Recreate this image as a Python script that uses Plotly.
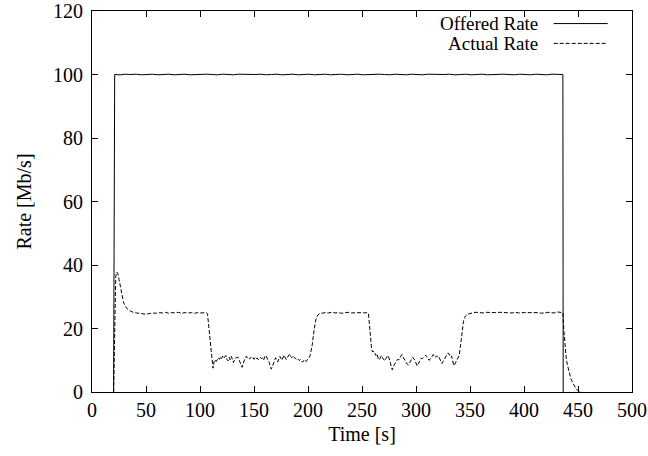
import plotly.graph_objects as go

# ---------------- data ----------------
offered_t = [20] + list(range(21, 437, 5)) + [436.3]
offered_core = [
    100.0, 99.9, 100.1, 100.0, 100.1, 99.9, 100.0, 100.1, 99.9, 100.0,
    100.1, 99.9, 100.0, 100.1, 99.9, 100.0, 99.9, 100.1, 100.0, 99.9,
    100.1, 100.0, 99.9, 100.1, 100.0, 99.9, 100.0, 100.1, 99.9, 100.0,
    100.1, 99.9, 100.0, 100.1, 99.9, 100.0, 100.1, 99.9, 100.0, 100.1,
    99.9, 100.0, 100.1, 99.9, 100.0, 100.1, 99.9, 100.0, 99.9, 100.1,
    100.0, 99.9, 100.1, 100.0, 99.9, 100.1, 100.0, 99.9, 100.1, 100.0,
    99.9, 100.0, 100.1, 99.9, 100.0, 100.1, 99.9, 100.0, 100.1, 99.9,
    100.0, 99.9, 100.1, 100.0, 99.9, 100.1, 100.0, 99.9, 100.1, 100.0,
    99.9, 100.1, 100.0, 100.0,
]
offered_v = [0] + offered_core + [0]

actual_t = [
    20, 20.5, 21, 21.5, 22, 23, 24, 25, 26, 27, 28, 29, 30, 32, 34, 36, 38, 41, 44, 47,
    50, 53, 56, 59, 62, 65, 68, 71, 74, 77, 80, 83, 86, 89, 92, 95, 98, 101, 104, 106,
    107, 108, 109, 110, 111, 112, 113, 114, 115, 116, 117, 118, 119, 120, 121, 122, 124, 125, 126, 127,
    128, 129, 130, 131, 132, 133, 135, 136, 137, 138, 139, 140, 141, 142, 143, 144, 145, 146, 147, 148,
    149, 150, 151, 152, 153, 154, 155, 156, 157, 158, 159, 160, 161, 162, 163, 164, 165, 166, 167, 168,
    169, 170, 171, 172, 173, 174, 175, 176, 177, 178, 179, 180, 181, 182, 183, 184, 185, 186, 187, 188,
    189, 190, 191, 192, 193, 194, 195, 196, 197, 198, 199, 200, 201, 202, 203, 204, 205, 206, 207, 208,
    209, 211, 213, 216, 219, 222, 225, 228, 231, 234, 237, 240, 243, 246, 249, 252, 255, 256, 257, 258,
    259, 260, 261, 262, 263, 264, 265, 266, 267, 268, 269, 270, 271, 272, 273, 274, 275, 276, 277, 278,
    279, 280, 281, 282, 283, 284, 285, 286, 287, 288, 289, 290, 291, 292, 293, 294, 295, 296, 297, 298,
    299, 300, 301, 302, 303, 304, 305, 306, 307, 308, 309, 310, 311, 312, 313, 314, 315, 316, 317, 318,
    319, 320, 321, 322, 323, 324, 325, 326, 327, 328, 329, 330, 331, 332, 333, 334, 335, 336, 337, 338,
    339, 340, 341, 342, 343, 344, 345, 346, 348, 350, 353, 356, 359, 362, 365, 368, 371, 374, 377, 380,
    383, 386, 389, 392, 395, 398, 401, 404, 407, 410, 413, 416, 419, 422, 425, 428, 431, 434, 436, 437,
    438, 439, 440, 441, 442, 443, 444, 445, 446, 447, 448, 449, 450, 451, 452,
]
actual_v = [
    0, 12, 26, 33, 36.5, 37.8, 37.2, 35.5, 33.5, 31.5, 29.8, 28.5, 27.6, 26.4, 25.8, 25.4, 25.1, 24.9, 24.8, 24.6,
    24.5, 24.7, 24.9, 24.8, 25.0, 24.9, 25.1, 24.8, 25.0, 24.9, 25.1, 24.8, 25.0, 24.9, 25.0, 24.8, 25.0, 24.9, 25.0, 25.0,
    24.5, 21, 17, 13.5, 10, 7.5, 9.5, 10.2, 9.6, 10.1, 10.8, 10.3, 11.0, 10.5, 11.3, 10.6, 11.5, 10.2, 9.8, 10.9,
    10.1, 11.2, 10.4, 9.3, 10.2, 10.7, 11.0, 10.1, 9.6, 8.8, 7.8, 9.0, 10.3, 10.8, 11.3, 10.5, 10.7, 10.4, 10.9, 10.5,
    10.8, 10.3, 10.9, 10.5, 10.7, 10.2, 10.6, 10.9, 10.4, 10.8, 10.1, 11.2, 11.5, 10.4, 10.0, 9.4, 8.6, 7.2, 8.0, 9.2,
    9.9, 10.8, 10.1, 9.5, 10.4, 11.2, 10.6, 10.0, 11.0, 11.6, 10.7, 10.2, 10.9, 11.5, 12.0, 11.2, 10.8, 11.4, 10.9, 10.5,
    10.3, 10.6, 10.1, 9.9, 10.3, 9.8, 9.4, 9.9, 10.2, 9.6, 9.9, 10.3, 10.8, 11.5, 12.8, 15, 18, 20.5, 22.3, 23.5,
    24.2, 24.7, 24.9, 25.0, 24.9, 25.1, 24.9, 25.0, 24.8, 25.0, 25.1, 24.9, 25.0, 24.9, 25.0, 24.9, 25.0, 24.6, 20, 15.5,
    13.2, 12.6, 12.9, 12.1, 11.5, 12.0, 10.5, 10.1, 10.9, 11.5, 10.8, 10.0, 9.8, 10.5, 11.2, 11.5, 10.7, 9.5, 8.2, 7.0,
    8.0, 8.8, 9.3, 9.8, 10.3, 10.1, 10.8, 11.5, 11.8, 11.0, 10.3, 9.7, 9.2, 8.7, 8.5, 9.3, 10.0, 10.4, 10.9, 10.6,
    10.0, 9.1, 8.2, 8.8, 9.6, 10.2, 10.7, 10.5, 11.0, 11.4, 11.6, 11.1, 10.5, 10.0, 10.2, 10.8, 11.5, 11.8, 11.2, 10.9,
    11.4, 11.0, 11.2, 10.6, 9.8, 9.0, 9.6, 10.3, 10.7, 11.3, 11.9, 12.3, 11.6, 11.0, 11.3, 10.2, 8.3, 8.8, 9.4, 10.0,
    10.7, 11.5, 14, 17.5, 20.5, 22.3, 23.4, 24.0, 24.5, 24.8, 25.0, 25.1, 25.0, 24.9, 25.1, 25.0, 24.9, 25.0, 25.1, 25.0,
    24.9, 25.0, 24.9, 25.1, 24.9, 25.0, 25.0, 24.9, 25.1, 24.9, 25.0, 24.8, 25.0, 25.1, 25.0, 24.9, 25.2, 25.1, 25.0, 19,
    14, 11, 8.8, 7.2, 5.8, 4.7, 3.7, 2.9, 2.2, 1.6, 1.1, 0.7, 0.4, 0.2, 0.0,
]

x_ticks = [0, 50, 100, 150, 200, 250, 300, 350, 400, 450, 500]
y_ticks = [0, 20, 40, 60, 80, 100, 120]
series_names = ["Offered Rate", "Actual Rate"]

# ---------------- figure ----------------
FONT = dict(family="Liberation Serif, Times New Roman, serif", size=20, color="black")
KEY_FONT = dict(family="Liberation Serif, Times New Roman, serif", size=19, color="black")

fig = go.Figure()
fig.add_trace(go.Scatter(x=offered_t, y=offered_v, mode="lines", name=series_names[0],
                         line=dict(color="black", width=1), showlegend=False))
fig.add_trace(go.Scatter(x=actual_t, y=actual_v, mode="lines", name=series_names[1],
                         line=dict(color="black", width=1, dash="4px,2px"), showlegend=False))

axis_common = dict(showgrid=False, zeroline=False, showline=True, linecolor="black", linewidth=1,
                   mirror="ticks", ticks="inside", ticklen=6, tickcolor="black", tickwidth=1,
                   tickfont=FONT, automargin=False)
fig.update_xaxes(range=[0, 500], tickvals=x_ticks, ticktext=[str(v) for v in x_ticks],
                 title=dict(text="Time [s]", font=FONT, standoff=6), **axis_common)
fig.update_yaxes(range=[0, 120], tickvals=y_ticks, ticktext=[str(v) for v in y_ticks],
                 ticklabelstandoff=4,
                 title=dict(text="Rate [Mb/s]", font=FONT, standoff=16), **axis_common)

# gnuplot-style key: text right-aligned, sample line to its right
key_rows = [(0.967, "solid"), (0.915, "4px,2px")]
for (yp, dash), name in zip(key_rows, series_names):
    fig.add_annotation(xref="paper", yref="paper", x=0.83, y=yp, text=name, showarrow=False,
                       xanchor="right", yanchor="middle", font=KEY_FONT)
    fig.add_shape(type="line", xref="paper", yref="paper", x0=0.855, x1=0.955, y0=yp, y1=yp,
                  line=dict(color="black", width=1, dash=dash))

fig.update_layout(width=648, height=456, margin=dict(l=92, r=16, t=11, b=64, autoexpand=False),
                  paper_bgcolor="white", plot_bgcolor="white", font=FONT)

fig.write_html("out.html", config={"displayModeBar": False},
               post_script="document.body.style.margin='0px';")
